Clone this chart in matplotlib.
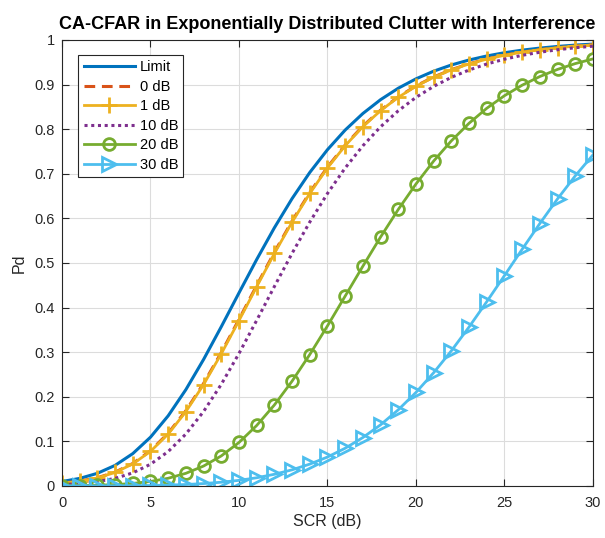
import matplotlib
matplotlib.use("Agg")
import matplotlib.pyplot as plt

plt.rcParams['font.family'] = ['Liberation Sans', 'DejaVu Sans']

scr_db = list(range(0, 31))

pd_limit = [0.0100, 0.0170, 0.0284, 0.0462, 0.0726, 0.1094, 0.1574, 0.2161, 0.2837, 0.3571,
            0.4329, 0.5077, 0.5789, 0.6443, 0.7029, 0.7540, 0.7980, 0.8351, 0.8661, 0.8918,
            0.9128, 0.9300, 0.9439, 0.9551, 0.9641, 0.9714, 0.9772, 0.9818, 0.9855, 0.9885, 0.9908]
pd_0db = [0.0063, 0.0108, 0.0185, 0.0310, 0.0505, 0.0790, 0.1183, 0.1688, 0.2298, 0.2991,
          0.3735, 0.4495, 0.5239, 0.5940, 0.6580, 0.7149, 0.7645, 0.8069, 0.8426, 0.8724,
          0.8969, 0.9170, 0.9334, 0.9466, 0.9573, 0.9659, 0.9728, 0.9783, 0.9827, 0.9863, 0.9891]
pd_1db = [0.0061, 0.0105, 0.0180, 0.0303, 0.0494, 0.0776, 0.1165, 0.1667, 0.2274, 0.2964,
          0.3708, 0.4468, 0.5213, 0.5916, 0.6559, 0.7131, 0.7629, 0.8056, 0.8415, 0.8714,
          0.8962, 0.9164, 0.9329, 0.9462, 0.9570, 0.9657, 0.9726, 0.9782, 0.9826, 0.9861, 0.9890]
pd_10db = [0.0030, 0.0053, 0.0096, 0.0170, 0.0294, 0.0487, 0.0772, 0.1165, 0.1670, 0.2279,
           0.2971, 0.3713, 0.4472, 0.5216, 0.5917, 0.6558, 0.7129, 0.7627, 0.8053, 0.8412,
           0.8712, 0.8959, 0.9162, 0.9327, 0.9461, 0.9569, 0.9656, 0.9725, 0.9781, 0.9826, 0.9861]
pd_20db = [0.0005, 0.0009, 0.0017, 0.0031, 0.0057, 0.0101, 0.0173, 0.0284, 0.0447, 0.0674,
           0.0975, 0.1356, 0.1816, 0.2350, 0.2947, 0.3589, 0.4257, 0.4927, 0.5581, 0.6199,
           0.6770, 0.7285, 0.7738, 0.8132, 0.8468, 0.8750, 0.8986, 0.9180, 0.9340, 0.9470, 0.9575]
pd_30db = [0.0000, 0.0001, 0.0002, 0.0003, 0.0006, 0.0011, 0.0020, 0.0033, 0.0054, 0.0084,
           0.0126, 0.0184, 0.0262, 0.0362, 0.0490, 0.0649, 0.0846, 0.1086, 0.1371, 0.1708,
           0.2097, 0.2539, 0.3030, 0.3564, 0.4131, 0.4716, 0.5306, 0.5884, 0.6437, 0.6952, 0.7422]

fig = plt.figure(figsize=(6.05, 5.38), dpi=100)
ax = fig.add_axes([0.1025, 0.0967, 0.8775, 0.829])

ax.plot(scr_db, pd_limit, color='#0072BD', lw=2.2, label='Limit')
ax.plot(scr_db, pd_0db, color='#D95319', lw=2.2, ls=(0, (3.5, 2.2)), label='0 dB')
ax.plot(scr_db, pd_1db, color='#EDB120', lw=2.0, marker='+', ms=11, mew=2.0, label='1 dB')
ax.plot(scr_db, pd_10db, color='#7E2F8E', lw=2.2, ls=(0, (1, 1.2)), label='10 dB')
ax.plot(scr_db, pd_20db, color='#77AC30', lw=2.0, marker='o', ms=8.5, mew=2.0,
        mfc='none', label='20 dB')
ax.plot(scr_db, pd_30db, color='#4DBEEE', lw=2.0, marker='>', ms=10, mew=2.0,
        mfc='none', label='30 dB')

ax.set_xlim(0, 30)
ax.set_ylim(0, 1)
ax.set_xticks(range(0, 31, 5))
ax.set_yticks([i / 10 for i in range(11)])
ax.set_yticklabels(['0', '0.1', '0.2', '0.3', '0.4', '0.5', '0.6', '0.7', '0.8', '0.9', '1'])
ax.tick_params(direction='in', top=True, right=True, labelsize=10.5, colors='#262626',
               length=5, width=0.8)
ax.tick_params(axis='x', pad=7)
ax.tick_params(axis='y', pad=5)
ax.grid(True, color='#dcdcdc', lw=0.8)
ax.set_axisbelow(True)
for s in ax.spines.values():
    s.set_color('#262626')
    s.set_linewidth(0.8)

ax.set_xlabel('SCR (dB)', fontsize=11.5, color='#262626', labelpad=3)
ax.set_ylabel('Pd', fontsize=11.5, color='#262626', labelpad=6)
ax.set_title('CA-CFAR in Exponentially Distributed Clutter with Interference',
             fontsize=13, fontweight='bold', pad=8)

leg = ax.legend(loc='upper left', bbox_to_anchor=(0.031, 0.966), fontsize=10.5,
                fancybox=False, framealpha=1, edgecolor='#262626',
                handlelength=3.5, handletextpad=0.35, labelspacing=0.38,
                borderpad=0.35, borderaxespad=0)
leg.get_frame().set_linewidth(0.8)

fig.savefig('out.png', dpi=100)
